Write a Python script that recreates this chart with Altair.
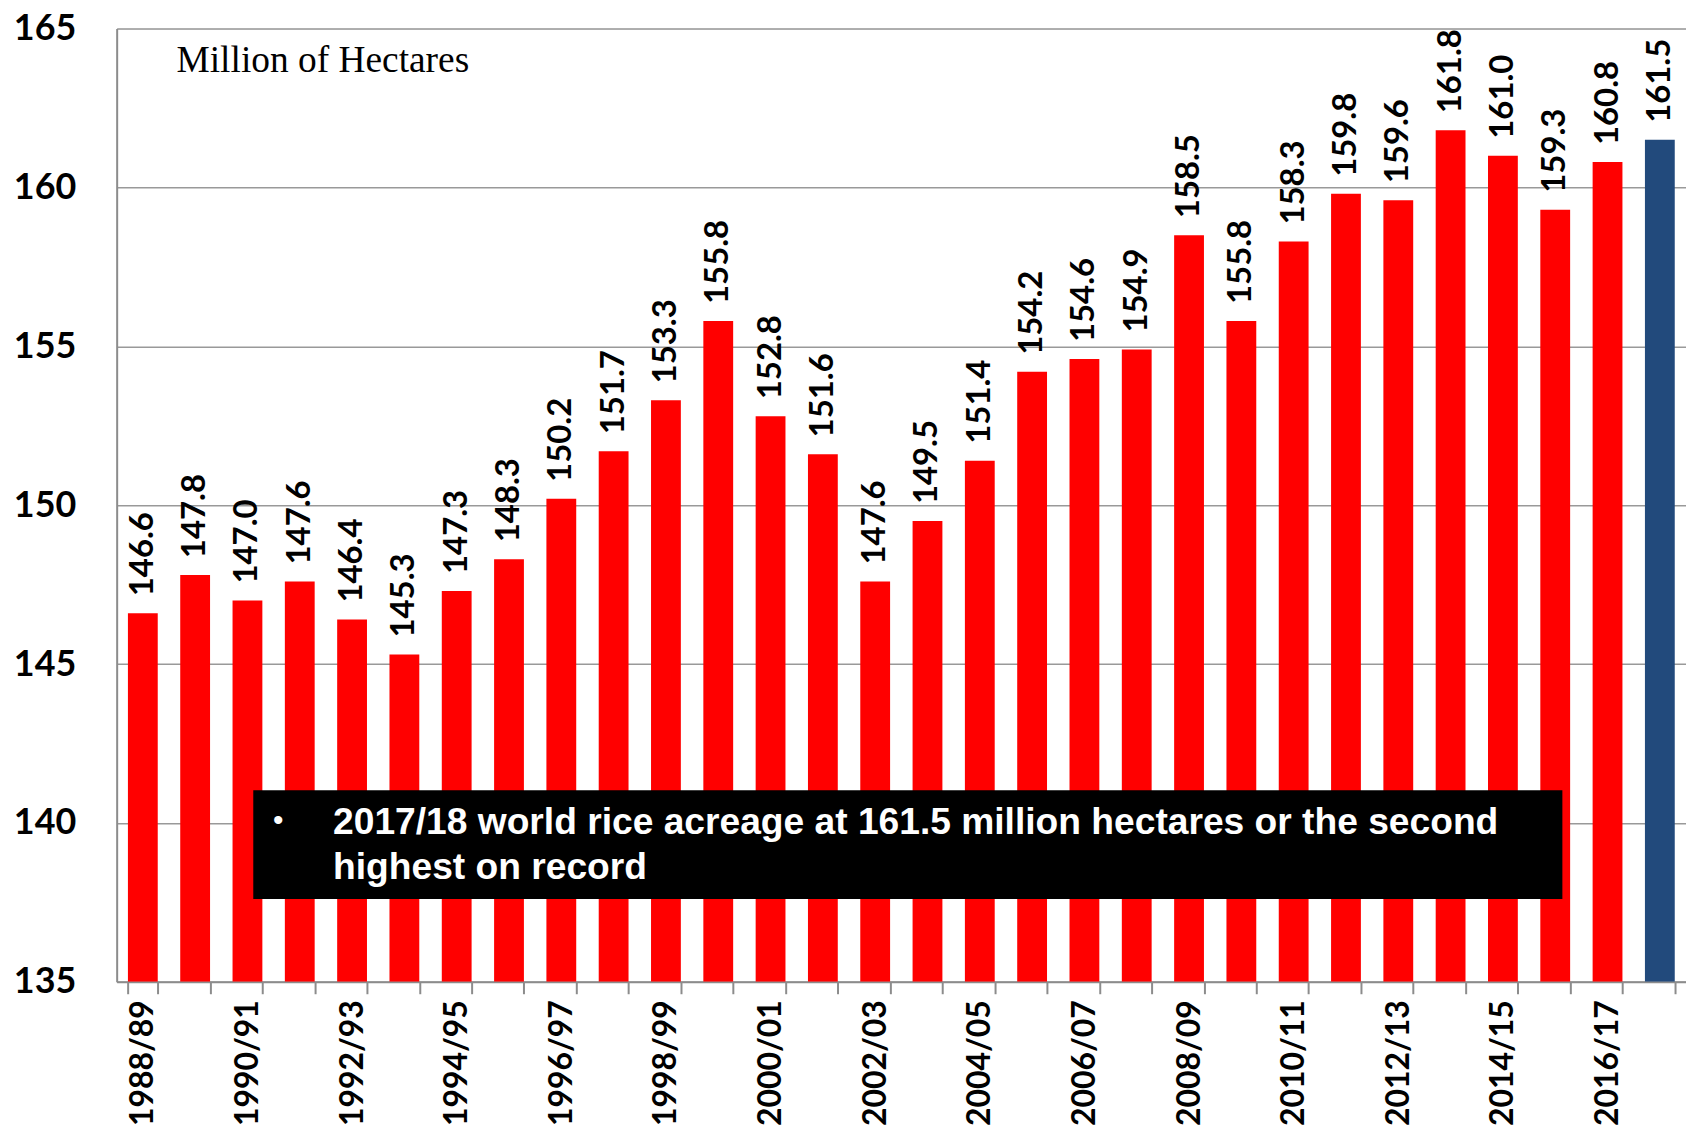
import altair as alt
import pandas as pd

seasons = ["1988/89", "1989/90", "1990/91", "1991/92", "1992/93", "1993/94", "1994/95",
           "1995/96", "1996/97", "1997/98", "1998/99", "1999/00", "2000/01", "2001/02",
           "2002/03", "2003/04", "2004/05", "2005/06", "2006/07", "2007/08", "2008/09",
           "2009/10", "2010/11", "2011/12", "2012/13", "2013/14", "2014/15", "2015/16",
           "2016/17", "2017/18"]
values = [146.6, 147.8, 147.0, 147.6, 146.4, 145.3, 147.3, 148.3, 150.2, 151.7, 153.3,
          155.8, 152.8, 151.6, 147.6, 149.5, 151.4, 154.2, 154.6, 154.9, 158.5, 155.8,
          158.3, 159.8, 159.6, 161.8, 161.0, 159.3, 160.8, 161.5]
kinds = ["past"] * 29 + ["current"]
y_ticks = [135, 140, 145, 150, 155, 160, 165]
unit_label = "Million of Hectares"
note_line1 = "2017/18 world rice acreage at 161.5 million hectares or the second"
note_line2 = "highest on record"

df = pd.DataFrame({"season": seasons, "value": values, "kind": kinds,
                   "label": [f"{v:.1f}" for v in values]})

W, H = 1574, 956

x = alt.X("season:N", sort=seasons,
          scale=alt.Scale(paddingInner=0.43, paddingOuter=0.215),
          axis=alt.Axis(title=None, tickBand="extent", labelAngle=270,
                        labelExpr="toNumber(substring(datum.value,0,4)) % 2 == 0 ? datum.value : ''",
                        labelFont="Lato", labelFontWeight="bold", labelFontSize=32,
                        labelColor="black", labelPadding=6, tickSize=12, tickColor="#8c8c8c",
                        tickWidth=2, domainColor="#8c8c8c", domainWidth=2, grid=False,
                        labelOverlap=False))
y = alt.Y("value:Q", scale=alt.Scale(domain=[135, 165], nice=False, zero=False),
          axis=alt.Axis(title=None, values=y_ticks, labelFont="Lato", labelFontWeight="bold",
                        labelFontSize=36, labelColor="black", labelPadding=41, ticks=False,
                        domainColor="#8c8c8c", domainWidth=2, gridColor="#999999",
                        gridWidth=1.5))

base = alt.Chart(df)

bars = base.mark_bar(clip=True).encode(
    x=x, y=y, y2=alt.datum(135),
    color=alt.Color("kind:N", scale=alt.Scale(domain=["past", "current"],
                                              range=["#ff0000", "#224a7c"]), legend=None),
)

labels = base.mark_text(angle=270, align="left", baseline="middle", dx=17,
                        font="Lato", fontWeight="bold", fontSize=33, color="black").encode(
    x=alt.X("season:N", sort=seasons), y="value:Q", text="label:N")

unit = alt.Chart(pd.DataFrame({"t": [unit_label]})).mark_text(
    align="left", baseline="middle", font="Liberation Serif", fontSize=37.5, color="black"
).encode(x=alt.value(60), y=alt.value(33), text="t:N")

box = alt.Chart(pd.DataFrame({"a": [1]})).mark_rect(color="black").encode(
    x=alt.value(137), x2=alt.value(1450), y=alt.value(764), y2=alt.value(873))

notes = alt.Chart(pd.DataFrame({"t": [note_line1, note_line2], "yy": [797, 842]})).mark_text(
    align="left", baseline="middle", font="Liberation Sans", fontWeight="bold",
    fontSize=37.3, color="white"
).encode(x=alt.value(217), y=alt.Y("yy:Q", scale=None, axis=None), text="t:N")

bullet = alt.Chart(pd.DataFrame({"t": ["•"]})).mark_text(
    align="center", baseline="middle", font="Liberation Sans", fontSize=30, color="white"
).encode(x=alt.value(162), y=alt.value(795), text="t:N")

chart = alt.layer(bars, labels, unit, box, notes, bullet).properties(
    width=W, height=H,
    autosize=alt.AutoSizeParams(type="none"),
    padding={"left": 109, "top": 19, "right": 0, "bottom": 145},
).configure_view(stroke=None).configure(background="white")

chart.save("out.html", embed_options={"renderer": "svg", "actions": False})
